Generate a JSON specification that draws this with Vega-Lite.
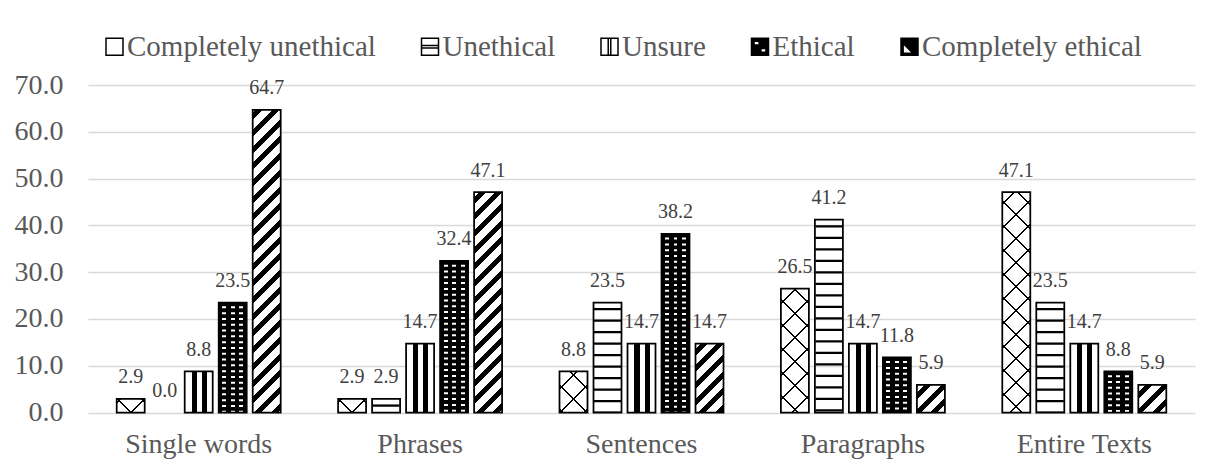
{
"$schema": "https://vega.github.io/schema/vega-lite/v6.json",
"width": 1107, "height": 327.5,
"autosize": {"type": "none"},
"padding": {"left": 88, "top": 85, "right": 11, "bottom": 51.5},
"background": "white",
"config": {"view": {"stroke": null}, "font": "Liberation Serif"},
"data": {"values": [
{"g":"Single words","c":"Completely unethical","v":2.9},
{"g":"Single words","c":"Unethical","v":0.0},
{"g":"Single words","c":"Unsure","v":8.8},
{"g":"Single words","c":"Ethical","v":23.5},
{"g":"Single words","c":"Completely ethical","v":64.7},
{"g":"Phrases","c":"Completely unethical","v":2.9},
{"g":"Phrases","c":"Unethical","v":2.9},
{"g":"Phrases","c":"Unsure","v":14.7},
{"g":"Phrases","c":"Ethical","v":32.4},
{"g":"Phrases","c":"Completely ethical","v":47.1},
{"g":"Sentences","c":"Completely unethical","v":8.8},
{"g":"Sentences","c":"Unethical","v":23.5},
{"g":"Sentences","c":"Unsure","v":14.7},
{"g":"Sentences","c":"Ethical","v":38.2},
{"g":"Sentences","c":"Completely ethical","v":14.7},
{"g":"Paragraphs","c":"Completely unethical","v":26.5},
{"g":"Paragraphs","c":"Unethical","v":41.2},
{"g":"Paragraphs","c":"Unsure","v":14.7},
{"g":"Paragraphs","c":"Ethical","v":11.8},
{"g":"Paragraphs","c":"Completely ethical","v":5.9},
{"g":"Entire Texts","c":"Completely unethical","v":47.1},
{"g":"Entire Texts","c":"Unethical","v":23.5},
{"g":"Entire Texts","c":"Unsure","v":14.7},
{"g":"Entire Texts","c":"Ethical","v":8.8},
{"g":"Entire Texts","c":"Completely ethical","v":5.9}
]},
"encoding": {
 "x": {"field":"g","type":"nominal","sort":null,"title":null,
   "scale":{"domain":["Single words","Phrases","Sentences","Paragraphs","Entire Texts"],"paddingInner":0,"paddingOuter":0},
   "axis":{"labelFontSize":28,"labelColor":"#595959","labelFont":"Liberation Serif","labelPadding":18,"ticks":false,"domain":false,"labelAngle":0,"grid":false,"title":null}},
 "xOffset": {"field":"c","type":"nominal",
   "scale":{"domain":["Completely unethical","Unethical","Unsure","Ethical","Completely ethical"],"paddingInner":0.1765,"paddingOuter":0.844}},
 "y": {"field":"v","type":"quantitative","title":null,
   "scale":{"domain":[0,70],"nice":false},
   "axis":{"values":[0,10,20,30,40,50,60,70],"format":".1f","labelFontSize":28,"labelColor":"#595959","labelFont":"Liberation Serif","labelPadding":25,"ticks":false,"domain":false,"gridColor":"#d9d9d9","gridWidth":1.3,"title":null}}
},
"layer": [
 {
  "mark":{"type":"point","filled":true,"opacity":0,"strokeWidth":1.5},
  "encoding":{
   "y":{"datum":0},
   "fill":{"field":"c","type":"nominal",
    "scale":{"domain":["Completely unethical","Unethical","Unsure","Ethical","Completely ethical"],
     "range":["#fff","#fff","#fff","#000","#000"]},
    "legend":{"title":null,"orient":"none","legendX":12,"legendY":-53,"direction":"horizontal","symbolSize":289,"symbolStrokeColor":"#000","symbolStrokeWidth":1.5,"symbolOpacity":1,"labelFontSize":29,"labelFont":"Liberation Serif","labelColor":"#595959","labelOffset":-2,"columnPadding":39.5,"padding":0,"labelLimit":0}},
   "stroke":{"field":"c","type":"nominal",
    "scale":{"domain":["Completely unethical","Unethical","Unsure","Ethical","Completely ethical"],
     "range":["#000","#000","#000","#000","#000"]},
    "legend":{"title":null,"orient":"none","legendX":12,"legendY":-53,"direction":"horizontal","symbolSize":289,"symbolStrokeColor":"#000","symbolStrokeWidth":1.5,"symbolOpacity":1,"labelFontSize":29,"labelFont":"Liberation Serif","labelColor":"#595959","labelOffset":-2,"columnPadding":39.5,"padding":0,"labelLimit":0}},
   "shape":{"field":"c","type":"nominal",
    "scale":{"domain":["Completely unethical","Unethical","Unsure","Ethical","Completely ethical"],
     "range":["M-1,-1H1V1H-1Z",
              "M-1,-1H1V1H-1Z M-1,-0.15H1V0.15H-1Z",
              "M-1,-1H1V1H-1Z M-0.15,-1H0.15V1H-0.15Z",
              "M-1,-1H1V1H-1Z M-0.7,-0.65V-0.2H-0.1V-0.65Z M0.1,0.2V0.65H0.7V0.2Z",
              "M-1,-1H1V1H-1Z M-0.75,-0.4L-0.75,0.75L0.4,0.75Z"]},
    "legend":{"title":null,"orient":"none","legendX":12,"legendY":-53,"direction":"horizontal","symbolSize":289,"symbolStrokeColor":"#000","symbolStrokeWidth":1.5,"symbolOpacity":1,"labelFontSize":29,"labelFont":"Liberation Serif","labelColor":"#595959","labelOffset":-2,"columnPadding":39.5,"padding":0,"labelLimit":0}}
  }
 },
 {
  "transform":[{"filter":"datum.c === 'Completely ethical'"}],
  "mark":{"type":"bar"},
  "encoding":{"fill":{"condition":[
   {"test":"datum.g === 'Single words'","value":{"gradient":"linear","x1":0,"y1":0,"x2":0.1002,"y2":1.0833,"stops":[
{"offset":0.01,"color":"#fff"},{"offset":0.01,"color":"#000"},{"offset":0.0312,"color":"#000"},{"offset":0.0312,"color":"#fff"},
{"offset":0.0605,"color":"#fff"},{"offset":0.0605,"color":"#000"},{"offset":0.0817,"color":"#000"},{"offset":0.0817,"color":"#fff"},
{"offset":0.111,"color":"#fff"},{"offset":0.111,"color":"#000"},{"offset":0.1322,"color":"#000"},{"offset":0.1322,"color":"#fff"},
{"offset":0.1615,"color":"#fff"},{"offset":0.1615,"color":"#000"},{"offset":0.1827,"color":"#000"},{"offset":0.1827,"color":"#fff"},
{"offset":0.212,"color":"#fff"},{"offset":0.212,"color":"#000"},{"offset":0.2332,"color":"#000"},{"offset":0.2332,"color":"#fff"},
{"offset":0.2625,"color":"#fff"},{"offset":0.2625,"color":"#000"},{"offset":0.2837,"color":"#000"},{"offset":0.2837,"color":"#fff"},
{"offset":0.313,"color":"#fff"},{"offset":0.313,"color":"#000"},{"offset":0.3342,"color":"#000"},{"offset":0.3342,"color":"#fff"},
{"offset":0.3635,"color":"#fff"},{"offset":0.3635,"color":"#000"},{"offset":0.3847,"color":"#000"},{"offset":0.3847,"color":"#fff"},
{"offset":0.414,"color":"#fff"},{"offset":0.414,"color":"#000"},{"offset":0.4352,"color":"#000"},{"offset":0.4352,"color":"#fff"},
{"offset":0.4645,"color":"#fff"},{"offset":0.4645,"color":"#000"},{"offset":0.4857,"color":"#000"},{"offset":0.4857,"color":"#fff"},
{"offset":0.515,"color":"#fff"},{"offset":0.515,"color":"#000"},{"offset":0.5362,"color":"#000"},{"offset":0.5362,"color":"#fff"},
{"offset":0.5655,"color":"#fff"},{"offset":0.5655,"color":"#000"},{"offset":0.5867,"color":"#000"},{"offset":0.5867,"color":"#fff"},
{"offset":0.616,"color":"#fff"},{"offset":0.616,"color":"#000"},{"offset":0.6372,"color":"#000"},{"offset":0.6372,"color":"#fff"},
{"offset":0.6665,"color":"#fff"},{"offset":0.6665,"color":"#000"},{"offset":0.6877,"color":"#000"},{"offset":0.6877,"color":"#fff"},
{"offset":0.717,"color":"#fff"},{"offset":0.717,"color":"#000"},{"offset":0.7382,"color":"#000"},{"offset":0.7382,"color":"#fff"},
{"offset":0.7675,"color":"#fff"},{"offset":0.7675,"color":"#000"},{"offset":0.7887,"color":"#000"},{"offset":0.7887,"color":"#fff"},
{"offset":0.818,"color":"#fff"},{"offset":0.818,"color":"#000"},{"offset":0.8392,"color":"#000"},{"offset":0.8392,"color":"#fff"},
{"offset":0.8685,"color":"#fff"},{"offset":0.8685,"color":"#000"},{"offset":0.8897,"color":"#000"},{"offset":0.8897,"color":"#fff"},
{"offset":0.919,"color":"#fff"},{"offset":0.919,"color":"#000"},{"offset":0.9402,"color":"#000"},{"offset":0.9402,"color":"#fff"},
{"offset":0.9695,"color":"#fff"},{"offset":0.9695,"color":"#000"},{"offset":0.9907,"color":"#000"},{"offset":0.9907,"color":"#fff"}]}},
   {"test":"datum.g === 'Phrases'","value":{"gradient":"linear","x1":0,"y1":0,"x2":0.1409,"y2":1.1091,"stops":[
{"offset":0.02,"color":"#fff"},{"offset":0.02,"color":"#000"},{"offset":0.0482,"color":"#000"},{"offset":0.0482,"color":"#fff"},
{"offset":0.0872,"color":"#fff"},{"offset":0.0872,"color":"#000"},{"offset":0.1154,"color":"#000"},{"offset":0.1154,"color":"#fff"},
{"offset":0.1545,"color":"#fff"},{"offset":0.1545,"color":"#000"},{"offset":0.1827,"color":"#000"},{"offset":0.1827,"color":"#fff"},
{"offset":0.2217,"color":"#fff"},{"offset":0.2217,"color":"#000"},{"offset":0.2499,"color":"#000"},{"offset":0.2499,"color":"#fff"},
{"offset":0.2889,"color":"#fff"},{"offset":0.2889,"color":"#000"},{"offset":0.3171,"color":"#000"},{"offset":0.3171,"color":"#fff"},
{"offset":0.3562,"color":"#fff"},{"offset":0.3562,"color":"#000"},{"offset":0.3844,"color":"#000"},{"offset":0.3844,"color":"#fff"},
{"offset":0.4234,"color":"#fff"},{"offset":0.4234,"color":"#000"},{"offset":0.4516,"color":"#000"},{"offset":0.4516,"color":"#fff"},
{"offset":0.4906,"color":"#fff"},{"offset":0.4906,"color":"#000"},{"offset":0.5188,"color":"#000"},{"offset":0.5188,"color":"#fff"},
{"offset":0.5578,"color":"#fff"},{"offset":0.5578,"color":"#000"},{"offset":0.586,"color":"#000"},{"offset":0.586,"color":"#fff"},
{"offset":0.6251,"color":"#fff"},{"offset":0.6251,"color":"#000"},{"offset":0.6533,"color":"#000"},{"offset":0.6533,"color":"#fff"},
{"offset":0.6923,"color":"#fff"},{"offset":0.6923,"color":"#000"},{"offset":0.7205,"color":"#000"},{"offset":0.7205,"color":"#fff"},
{"offset":0.7595,"color":"#fff"},{"offset":0.7595,"color":"#000"},{"offset":0.7877,"color":"#000"},{"offset":0.7877,"color":"#fff"},
{"offset":0.8268,"color":"#fff"},{"offset":0.8268,"color":"#000"},{"offset":0.855,"color":"#000"},{"offset":0.855,"color":"#fff"},
{"offset":0.894,"color":"#fff"},{"offset":0.894,"color":"#000"},{"offset":0.9222,"color":"#000"},{"offset":0.9222,"color":"#fff"},
{"offset":0.9612,"color":"#fff"},{"offset":0.9612,"color":"#000"},{"offset":0.9894,"color":"#000"},{"offset":0.9894,"color":"#fff"}]}},
   {"test":"datum.g === 'Sentences'","value":{"gradient":"linear","x1":0,"y1":0,"x2":0.4913,"y2":1.2072,"stops":[
{"offset":0.05,"color":"#fff"},{"offset":0.05,"color":"#000"},{"offset":0.1223,"color":"#000"},{"offset":0.1223,"color":"#fff"},
{"offset":0.2225,"color":"#fff"},{"offset":0.2225,"color":"#000"},{"offset":0.2948,"color":"#000"},{"offset":0.2948,"color":"#fff"},
{"offset":0.395,"color":"#fff"},{"offset":0.395,"color":"#000"},{"offset":0.4673,"color":"#000"},{"offset":0.4673,"color":"#fff"},
{"offset":0.5675,"color":"#fff"},{"offset":0.5675,"color":"#000"},{"offset":0.6398,"color":"#000"},{"offset":0.6398,"color":"#fff"},
{"offset":0.74,"color":"#fff"},{"offset":0.74,"color":"#000"},{"offset":0.8123,"color":"#000"},{"offset":0.8123,"color":"#fff"},
{"offset":0.9125,"color":"#fff"},{"offset":0.9125,"color":"#000"},{"offset":0.9848,"color":"#000"},{"offset":0.9848,"color":"#fff"}]}}],
   "value":{"gradient":"linear","x1":0,"y1":0,"x2":1.0071,"y2":0.9927,"stops":[
{"offset":0.137,"color":"#fff"},{"offset":0.137,"color":"#000"},{"offset":0.263,"color":"#000"},{"offset":0.263,"color":"#fff"},
{"offset":0.437,"color":"#fff"},{"offset":0.437,"color":"#000"},{"offset":0.563,"color":"#000"},{"offset":0.563,"color":"#fff"},
{"offset":0.737,"color":"#fff"},{"offset":0.737,"color":"#000"},{"offset":0.863,"color":"#000"},{"offset":0.863,"color":"#fff"}]}}}
 },
 {
  "transform":[{"filter":"datum.c === 'Completely unethical'"}],
  "mark":{"type":"bar"},
  "encoding":{"fill":{"condition":[
   {"test":"datum.g === 'Sentences'","value":{"gradient":"linear","x1":0,"y1":0,"x2":0.7811,"y2":1.1488,"stops":[
{"offset":0.247,"color":"#fff"},{"offset":0.247,"color":"#000"},{"offset":0.273,"color":"#000"},{"offset":0.273,"color":"#fff"},
{"offset":0.594,"color":"#fff"},{"offset":0.594,"color":"#000"},{"offset":0.62,"color":"#000"},{"offset":0.62,"color":"#fff"},
{"offset":0.941,"color":"#fff"},{"offset":0.941,"color":"#000"},{"offset":0.967,"color":"#000"},{"offset":0.967,"color":"#fff"}]}},
   {"test":"datum.g === 'Paragraphs'","value":{"gradient":"linear","x1":0,"y1":0,"x2":0.2634,"y2":1.1663,"stops":[
{"offset":0.094,"color":"#fff"},{"offset":0.094,"color":"#000"},{"offset":0.106,"color":"#000"},{"offset":0.106,"color":"#fff"},
{"offset":0.252,"color":"#fff"},{"offset":0.252,"color":"#000"},{"offset":0.264,"color":"#000"},{"offset":0.264,"color":"#fff"},
{"offset":0.41,"color":"#fff"},{"offset":0.41,"color":"#000"},{"offset":0.422,"color":"#000"},{"offset":0.422,"color":"#fff"},
{"offset":0.568,"color":"#fff"},{"offset":0.568,"color":"#000"},{"offset":0.58,"color":"#000"},{"offset":0.58,"color":"#fff"},
{"offset":0.726,"color":"#fff"},{"offset":0.726,"color":"#000"},{"offset":0.738,"color":"#000"},{"offset":0.738,"color":"#fff"},
{"offset":0.884,"color":"#fff"},{"offset":0.884,"color":"#000"},{"offset":0.895,"color":"#000"},{"offset":0.895,"color":"#fff"}]}},
   {"test":"datum.g === 'Entire Texts'","value":{"gradient":"linear","x1":0,"y1":0,"x2":0.1409,"y2":1.1091,"stops":[
{"offset":0.0464,"color":"#fff"},{"offset":0.0464,"color":"#000"},{"offset":0.0536,"color":"#000"},{"offset":0.0536,"color":"#fff"},
{"offset":0.143,"color":"#fff"},{"offset":0.143,"color":"#000"},{"offset":0.1502,"color":"#000"},{"offset":0.1502,"color":"#fff"},
{"offset":0.2396,"color":"#fff"},{"offset":0.2396,"color":"#000"},{"offset":0.2468,"color":"#000"},{"offset":0.2468,"color":"#fff"},
{"offset":0.3363,"color":"#fff"},{"offset":0.3363,"color":"#000"},{"offset":0.3435,"color":"#000"},{"offset":0.3435,"color":"#fff"},
{"offset":0.4329,"color":"#fff"},{"offset":0.4329,"color":"#000"},{"offset":0.4401,"color":"#000"},{"offset":0.4401,"color":"#fff"},
{"offset":0.5295,"color":"#fff"},{"offset":0.5295,"color":"#000"},{"offset":0.5367,"color":"#000"},{"offset":0.5367,"color":"#fff"},
{"offset":0.6261,"color":"#fff"},{"offset":0.6261,"color":"#000"},{"offset":0.6333,"color":"#000"},{"offset":0.6333,"color":"#fff"},
{"offset":0.7227,"color":"#fff"},{"offset":0.7227,"color":"#000"},{"offset":0.7299,"color":"#000"},{"offset":0.7299,"color":"#fff"},
{"offset":0.8194,"color":"#fff"},{"offset":0.8194,"color":"#000"},{"offset":0.8266,"color":"#000"},{"offset":0.8266,"color":"#fff"},
{"offset":0.916,"color":"#fff"},{"offset":0.916,"color":"#000"},{"offset":0.9232,"color":"#000"},{"offset":0.9232,"color":"#fff"}]}}],
   "value":{"gradient":"linear","x1":0,"y1":0,"x2":1.2023,"y2":0.5827,"stops":[
{"offset":0.065,"color":"#fff"},{"offset":0.065,"color":"#000"},{"offset":0.109,"color":"#000"},{"offset":0.109,"color":"#fff"},
{"offset":0.642,"color":"#fff"},{"offset":0.642,"color":"#000"},{"offset":0.686,"color":"#000"},{"offset":0.686,"color":"#fff"}]}}}
 },
 {
  "transform":[{"filter":"datum.c === 'Completely unethical'"}],
  "mark":{"type":"bar"},
  "encoding":{"fill":{"condition":[
   {"test":"datum.g === 'Sentences'","value":{"gradient":"linear","x1":0,"y1":1,"x2":0.7811,"y2":-0.1488,"stops":[
{"offset":0.033,"color":"rgba(0,0,0,0)"},{"offset":0.033,"color":"#000"},{"offset":0.059,"color":"#000"},{"offset":0.059,"color":"rgba(0,0,0,0)"},
{"offset":0.38,"color":"rgba(0,0,0,0)"},{"offset":0.38,"color":"#000"},{"offset":0.406,"color":"#000"},{"offset":0.406,"color":"rgba(0,0,0,0)"},
{"offset":0.727,"color":"rgba(0,0,0,0)"},{"offset":0.727,"color":"#000"},{"offset":0.753,"color":"#000"},{"offset":0.753,"color":"rgba(0,0,0,0)"}]}},
   {"test":"datum.g === 'Paragraphs'","value":{"gradient":"linear","x1":0,"y1":1,"x2":0.2634,"y2":-0.1663,"stops":[
{"offset":0.105,"color":"rgba(0,0,0,0)"},{"offset":0.105,"color":"#000"},{"offset":0.116,"color":"#000"},{"offset":0.116,"color":"rgba(0,0,0,0)"},
{"offset":0.263,"color":"rgba(0,0,0,0)"},{"offset":0.263,"color":"#000"},{"offset":0.274,"color":"#000"},{"offset":0.274,"color":"rgba(0,0,0,0)"},
{"offset":0.421,"color":"rgba(0,0,0,0)"},{"offset":0.421,"color":"#000"},{"offset":0.432,"color":"#000"},{"offset":0.432,"color":"rgba(0,0,0,0)"},
{"offset":0.578,"color":"rgba(0,0,0,0)"},{"offset":0.578,"color":"#000"},{"offset":0.59,"color":"#000"},{"offset":0.59,"color":"rgba(0,0,0,0)"},
{"offset":0.736,"color":"rgba(0,0,0,0)"},{"offset":0.736,"color":"#000"},{"offset":0.748,"color":"#000"},{"offset":0.748,"color":"rgba(0,0,0,0)"},
{"offset":0.894,"color":"rgba(0,0,0,0)"},{"offset":0.894,"color":"#000"},{"offset":0.906,"color":"#000"},{"offset":0.906,"color":"rgba(0,0,0,0)"}]}},
   {"test":"datum.g === 'Entire Texts'","value":{"gradient":"linear","x1":0,"y1":1,"x2":0.1409,"y2":-0.1091,"stops":[
{"offset":0.0768,"color":"rgba(0,0,0,0)"},{"offset":0.0768,"color":"#000"},{"offset":0.084,"color":"#000"},{"offset":0.084,"color":"rgba(0,0,0,0)"},
{"offset":0.1734,"color":"rgba(0,0,0,0)"},{"offset":0.1734,"color":"#000"},{"offset":0.1806,"color":"#000"},{"offset":0.1806,"color":"rgba(0,0,0,0)"},
{"offset":0.2701,"color":"rgba(0,0,0,0)"},{"offset":0.2701,"color":"#000"},{"offset":0.2773,"color":"#000"},{"offset":0.2773,"color":"rgba(0,0,0,0)"},
{"offset":0.3667,"color":"rgba(0,0,0,0)"},{"offset":0.3667,"color":"#000"},{"offset":0.3739,"color":"#000"},{"offset":0.3739,"color":"rgba(0,0,0,0)"},
{"offset":0.4633,"color":"rgba(0,0,0,0)"},{"offset":0.4633,"color":"#000"},{"offset":0.4705,"color":"#000"},{"offset":0.4705,"color":"rgba(0,0,0,0)"},
{"offset":0.5599,"color":"rgba(0,0,0,0)"},{"offset":0.5599,"color":"#000"},{"offset":0.5671,"color":"#000"},{"offset":0.5671,"color":"rgba(0,0,0,0)"},
{"offset":0.6565,"color":"rgba(0,0,0,0)"},{"offset":0.6565,"color":"#000"},{"offset":0.6637,"color":"#000"},{"offset":0.6637,"color":"rgba(0,0,0,0)"},
{"offset":0.7532,"color":"rgba(0,0,0,0)"},{"offset":0.7532,"color":"#000"},{"offset":0.7604,"color":"#000"},{"offset":0.7604,"color":"rgba(0,0,0,0)"},
{"offset":0.8498,"color":"rgba(0,0,0,0)"},{"offset":0.8498,"color":"#000"},{"offset":0.857,"color":"#000"},{"offset":0.857,"color":"rgba(0,0,0,0)"},
{"offset":0.9464,"color":"rgba(0,0,0,0)"},{"offset":0.9464,"color":"#000"},{"offset":0.9536,"color":"#000"},{"offset":0.9536,"color":"rgba(0,0,0,0)"}]}}],
   "value":{"gradient":"linear","x1":0,"y1":1,"x2":1.2023,"y2":0.4173,"stops":[
{"offset":0.314,"color":"rgba(0,0,0,0)"},{"offset":0.314,"color":"#000"},{"offset":0.358,"color":"#000"},{"offset":0.358,"color":"rgba(0,0,0,0)"},
{"offset":0.891,"color":"rgba(0,0,0,0)"},{"offset":0.891,"color":"#000"},{"offset":0.935,"color":"#000"},{"offset":0.935,"color":"rgba(0,0,0,0)"}]}}}
 },
 {
  "transform":[{"filter":"datum.c === 'Unsure'"}],
  "mark":{"type":"bar","fill":{"gradient":"linear","x1":0,"y1":0,"x2":1,"y2":0,"stops":[
{"offset":0.25,"color":"#fff"},{"offset":0.25,"color":"#000"},{"offset":0.43,"color":"#000"},{"offset":0.43,"color":"#fff"},
{"offset":0.61,"color":"#fff"},{"offset":0.61,"color":"#000"},{"offset":0.79,"color":"#000"},{"offset":0.79,"color":"#fff"}]}}
 },
 {
  "transform":[{"filter":"datum.c === 'Ethical'"}],
  "mark":{"type":"bar","fill":{"gradient":"linear","x1":0,"y1":0,"x2":1,"y2":0,"stops":[
{"offset":0.125,"color":"#000"},{"offset":0.125,"color":"#fff"},{"offset":0.268,"color":"#fff"},{"offset":0.268,"color":"#000"},
{"offset":0.429,"color":"#000"},{"offset":0.429,"color":"#fff"},{"offset":0.571,"color":"#fff"},{"offset":0.571,"color":"#000"},
{"offset":0.732,"color":"#000"},{"offset":0.732,"color":"#fff"},{"offset":0.875,"color":"#fff"},{"offset":0.875,"color":"#000"}]}}
 },
 {
  "transform":[{"filter":"datum.c === 'Ethical'"}],
  "mark":{"type":"rule","stroke":"#000","strokeWidth":28,"strokeDash":[3.8,2]},
  "encoding":{"y2":{"datum":0}}
 },
 {
  "transform":[{"filter":"datum.c === 'Unethical' && datum.v > 0"}],
  "mark":{"type":"rule","stroke":"#000","strokeWidth":27,"strokeDash":[2.3,9.2],"strokeDashOffset":6},
  "encoding":{"y2":{"datum":0}}
 },
 {
  "transform":[{"filter":"datum.v > 0"}],
  "mark":{"type":"bar","fill":"transparent","stroke":"#000","strokeWidth":1.75}
 },
 {
  "mark":{"type":"text","dy":-15.5,"baseline":"alphabetic","fontSize":20,"font":"Liberation Serif","color":"#404040"},
  "encoding":{"text":{"field":"v","type":"quantitative","format":".1f"}}
 }
]
}
